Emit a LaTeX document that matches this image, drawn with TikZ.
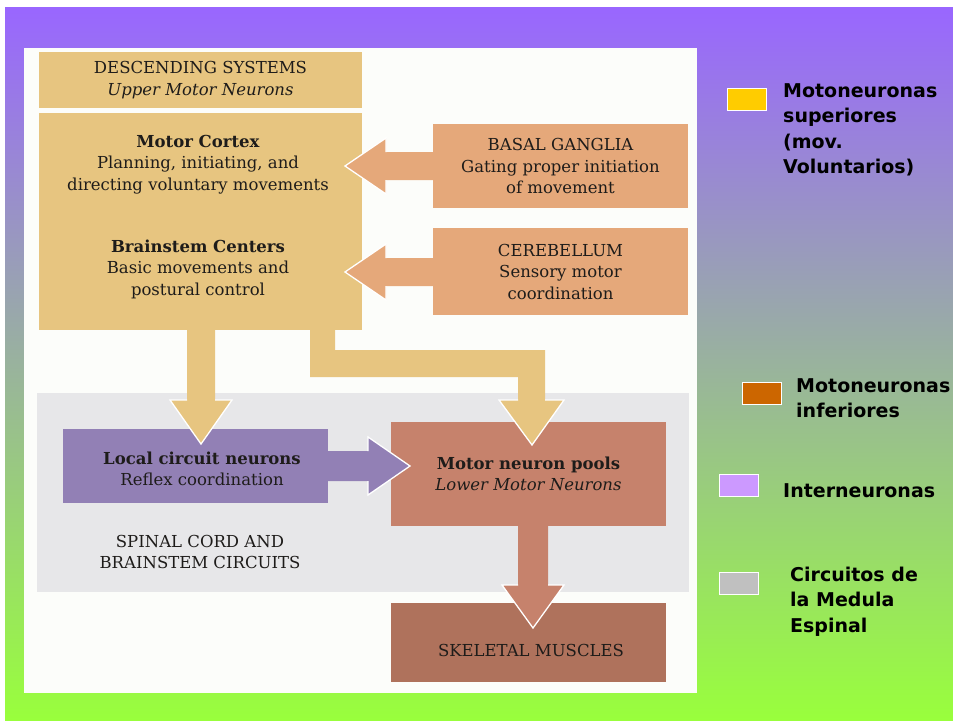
\documentclass[tikz,border=0pt]{standalone}
\usepackage{fontspec}
\setmainfont{DejaVu Serif}
\newfontfamily\legendfont{DejaVu Sans}
\usetikzlibrary{calc}

\definecolor{bgtop}{RGB}{153,102,255}
\definecolor{bgmid}{RGB}{150,185,192}
\definecolor{bgbot}{RGB}{153,255,60}
\definecolor{panel}{RGB}{252,253,250}
\definecolor{tanfill}{RGB}{231,197,128}
\definecolor{salmon}{RGB}{229,168,122}
\definecolor{lilac}{RGB}{146,128,181}
\definecolor{poolred}{RGB}{198,130,108}
\definecolor{musclered}{RGB}{175,114,92}
\definecolor{cordgray}{RGB}{231,231,233}
\definecolor{txtgray}{RGB}{30,28,26}
\definecolor{legyellow}{RGB}{255,204,0}
\definecolor{legbrown}{RGB}{204,102,0}
\definecolor{leglilac}{RGB}{204,153,255}
\definecolor{leggray}{RGB}{192,192,192}

\begin{document}
\begin{tikzpicture}[x=1pt,y=-1pt,
    txt/.style={font=\fontsize{16.5}{21.5}\selectfont, text=txtgray, align=center, inner sep=0pt},
    block/.style={txt, minimum width=#1},
    headline/.style={draw=white, line width=1.3pt, line join=miter},
    legtxt/.style={font=\legendfont\bfseries\fontsize{19}{25.5}\selectfont, align=left, anchor=base west, inner sep=0pt},
    swatch/.style={draw=white, line width=1pt, minimum width=39pt, minimum height=22pt, inner sep=0pt}]
  \useasboundingbox (0,0) rectangle (953,721);
  % background and panel
  \fill[white] (0,0) rectangle (953,721);
  \shade[top color=bgtop, middle color=bgmid, bottom color=bgbot] (5,7) rectangle (953,720);
  \fill[panel] (24,48) rectangle (697,693);
  \fill[cordgray] (37,393) rectangle (689,592);

  % boxes
  \node[block=323pt, fill=tanfill, minimum height=56pt] (desc) at (200.5,80) {DESCENDING SYSTEMS\\\textit{Upper Motor Neurons}};
  \node[fill=tanfill, minimum width=323pt, minimum height=217pt, inner sep=0pt] (upper) at (200.5,221.5) {};
  \node[txt] (cortex) at (198,164.5) {\textbf{Motor Cortex}\\Planning, initiating, and\\directing voluntary movements};
  \node[txt] (brainstem) at (198,269) {\textbf{Brainstem Centers}\\Basic movements and\\postural control};
  \node[block=255pt, fill=salmon, minimum height=84pt] (basal) at (560.5,166) {BASAL GANGLIA\\Gating proper initiation\\of movement};
  \node[block=255pt, fill=salmon, minimum height=87pt] (cereb) at (560.5,271.5) {CEREBELLUM\\Sensory motor\\coordination};
  \node[fill=lilac, minimum width=265pt, minimum height=74pt, inner sep=0pt] (local) at (195.5,466) {};
  \node[txt] (localtxt) at (202,469) {\textbf{Local circuit neurons}\\Reflex coordination};
  \node[block=275pt, fill=poolred, minimum height=104pt] (pools) at (528.5,474) {\textbf{Motor neuron pools}\\\textit{Lower Motor Neurons}};
  \node[fill=musclered, minimum width=275pt, minimum height=79pt, inner sep=0pt] (muscles) at (528.5,642.5) {};
  \node[txt] (muscletxt) at (531,650) {SKELETAL MUSCLES};
  \node[txt] (spinal) at (200,552) {SPINAL CORD AND\\BRAINSTEM CIRCUITS};

  % arrow tips
  \coordinate (basaltip) at (345,166);
  \coordinate (cerebtip) at (345,272);
  \coordinate (localtip) at (201,444);
  \coordinate (poolstip) at (532,445);
  \coordinate (reflextip) at (410,466);
  \coordinate (muscletip) at (533,628);

  % basal ganglia -> upper
  \fill[salmon] ($(basal.west |- basaltip)+(0,-14)$) -- ($(basaltip)+(41,-14)$) -- ($(basaltip)+(41,-28)$) -- (basaltip)
    -- ($(basaltip)+(41,28)$) -- ($(basaltip)+(41,14)$) -- ($(basal.west |- basaltip)+(0,14)$) -- cycle;
  \draw[headline] ($(basaltip)+(41,-14)$) -- ($(basaltip)+(41,-28)$) -- (basaltip) -- ($(basaltip)+(41,28)$) -- ($(basaltip)+(41,14)$);
  % cerebellum -> upper
  \fill[salmon] ($(cereb.west |- cerebtip)+(0,-14)$) -- ($(cerebtip)+(41,-14)$) -- ($(cerebtip)+(41,-28)$) -- (cerebtip)
    -- ($(cerebtip)+(41,28)$) -- ($(cerebtip)+(41,14)$) -- ($(cereb.west |- cerebtip)+(0,14)$) -- cycle;
  \draw[headline] ($(cerebtip)+(41,-14)$) -- ($(cerebtip)+(41,-28)$) -- (cerebtip) -- ($(cerebtip)+(41,28)$) -- ($(cerebtip)+(41,14)$);
  % upper -> local circuit neurons
  \fill[tanfill] ($(localtip |- upper.south)+(-14,0)$) -- ($(localtip)+(-14,-44)$) -- ($(localtip)+(-31,-44)$) -- (localtip)
    -- ($(localtip)+(31,-44)$) -- ($(localtip)+(14,-44)$) -- ($(localtip |- upper.south)+(14,0)$) -- cycle;
  \draw[headline] ($(localtip)+(-14,-44)$) -- ($(localtip)+(-31,-44)$) -- (localtip) -- ($(localtip)+(31,-44)$) -- ($(localtip)+(14,-44)$);
  % upper -> motor neuron pools
  \fill[tanfill] (310,0 |- upper.south) -- (335,0 |- upper.south) -- (335,350) -- ($(poolstip)+(13,-95)$) -- ($(poolstip)+(13,-45)$)
    -- ($(poolstip)+(32,-45)$) -- (poolstip) -- ($(poolstip)+(-33,-45)$) -- ($(poolstip)+(-14,-45)$) -- ($(poolstip)+(-14,-68)$)
    -- (310,377) -- cycle;
  \draw[headline] ($(poolstip)+(13,-45)$) -- ($(poolstip)+(32,-45)$) -- (poolstip) -- ($(poolstip)+(-33,-45)$) -- ($(poolstip)+(-14,-45)$);
  % local circuit neurons -> motor neuron pools
  \fill[lilac] ($(local.east)+(0,-15)$) -- ($(reflextip)+(-42,-15)$) -- ($(reflextip)+(-42,-29)$) -- (reflextip)
    -- ($(reflextip)+(-42,29)$) -- ($(reflextip)+(-42,15)$) -- ($(local.east)+(0,15)$) -- cycle;
  \draw[headline] ($(reflextip)+(-42,-15)$) -- ($(reflextip)+(-42,-29)$) -- (reflextip) -- ($(reflextip)+(-42,29)$) -- ($(reflextip)+(-42,15)$);
  % motor neuron pools -> skeletal muscles
  \fill[poolred] ($(muscletip |- pools.south)+(-15,0)$) -- ($(muscletip)+(-15,-43)$) -- ($(muscletip)+(-31,-43)$) -- (muscletip)
    -- ($(muscletip)+(31,-43)$) -- ($(muscletip)+(15,-43)$) -- ($(muscletip |- pools.south)+(15,0)$) -- cycle;
  \draw[headline] ($(muscletip)+(-15,-43)$) -- ($(muscletip)+(-31,-43)$) -- (muscletip) -- ($(muscletip)+(31,-43)$) -- ($(muscletip)+(15,-43)$);

  % legend (base = last line)
  \node[swatch, fill=legyellow] (keyupper) at (746.5,99) {};
  \node[legtxt] (upperlbl) at (783,173.5) {Motoneuronas\\superiores\\(mov.\\Voluntarios)};
  \node[swatch, fill=legbrown] (keylower) at (761.5,393.5) {};
  \node[legtxt] (lowerlbl) at (796,417.5) {Motoneuronas\\inferiores};
  \node[swatch, fill=leglilac] (keyinter) at (738.5,485.5) {};
  \node[legtxt] (interlbl) at (783,497) {Interneuronas};
  \node[swatch, fill=leggray] (keycord) at (738.5,583.5) {};
  \node[legtxt] (cordlbl) at (790,632) {Circuitos de\\la Medula\\Espinal};
\end{tikzpicture}
\end{document}
